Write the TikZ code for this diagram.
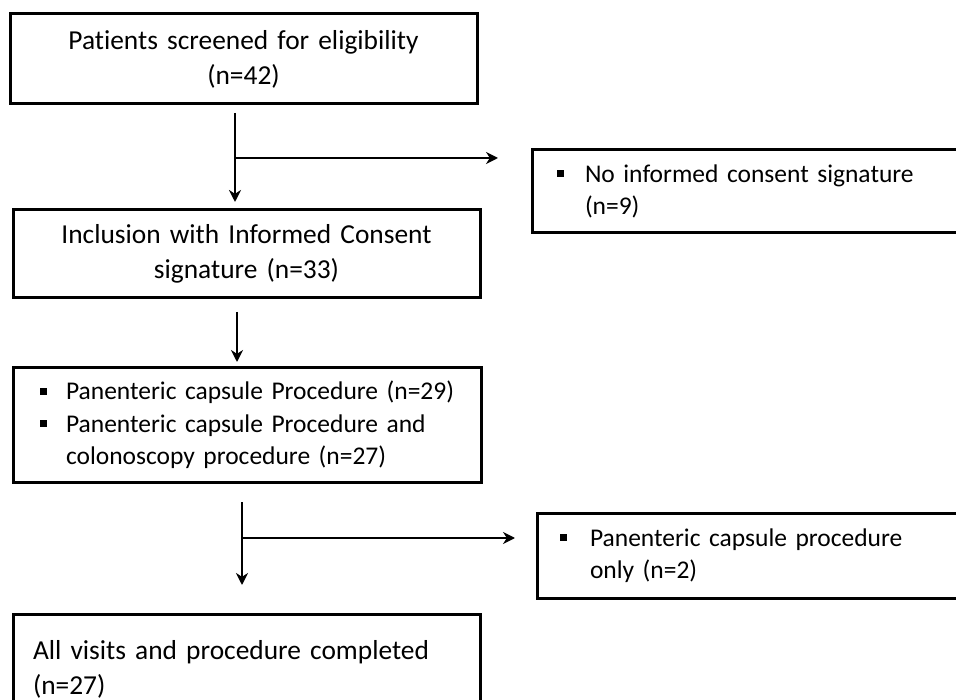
\documentclass[tikz,border=0pt]{standalone}
\usepackage{fontspec}
\setmainfont{Carlito}[Ligatures={NoCommon,NoRare,NoContextual},WordSpace={0.85}]
\usetikzlibrary{arrows.meta}
\newcommand\bulsq{\rule[5pt]{7pt}{7pt}}
\begin{document}
\begin{tikzpicture}[x=1pt,y=-1pt,
  box/.style={draw=black, line width=3pt, anchor=north west, inner sep=0pt, outer sep=0pt,
              font=\fontsize{25.5}{32.5}\selectfont},
  bigtext/.style={font=\fontsize{27.4}{35}\selectfont},
  arr/.style={line width=2pt, -{Stealth[length=12pt,width=12pt]}}]
\clip (0,0) rectangle (956,700);
% main column
\node[box, bigtext, minimum width=467, minimum height=90, text width=467, align=center] (B1) at (10,14)
  {Patients screened for eligibility\\(n=42)};
\node[box, bigtext, minimum width=467, minimum height=88, text width=467, align=center] (B2) at (13,210)
  {Inclusion with Informed Consent\\signature (n=33)};
\node[box, minimum width=468, minimum height=114, text width=468, align=left] (B3) at (13,368)
  {\hspace*{27pt}\makebox[26pt][l]{\bulsq}Panenteric capsule Procedure (n=29)\\
   \hspace*{27pt}\makebox[26pt][l]{\bulsq}Panenteric capsule Procedure and\\
   \hspace*{53pt}colonoscopy procedure (n=27)};
\node[box, bigtext, minimum width=467, minimum height=110, text width=467, align=left] (B4) at (13,614)
  {\hspace*{20pt}All visits and procedure completed\\\hspace*{20pt}(n=27)\\[8pt]};
% side boxes
\node[box, minimum width=440, minimum height=83, text width=440, align=left] (E1) at (532,150)
  {\hspace*{25pt}\makebox[28pt][l]{\bulsq}No informed consent signature\\\hspace*{53pt}(n=9)};
\node[box, minimum width=430, minimum height=85, text width=430, align=left] (E2) at (537,513)
  {\hspace*{23pt}\makebox[30pt][l]{\bulsq}Panenteric capsule procedure\\\hspace*{53pt}only (n=2)};
% connectors
\coordinate (s1) at (235,113);
\coordinate (j1) at (235,158);
\coordinate (s2) at (237,312);
\coordinate (s3) at (242,502);
\coordinate (j3) at (242,538);
\draw[arr, shorten >=8pt] (s1) -- (s1 |- B2.north);
\draw[arr, shorten >=34pt] (j1) -- (j1 -| E1.west);
\draw[arr, shorten >=6pt] (s2) -- (s2 |- B3.north);
\draw[arr, shorten >=29pt] (s3) -- (s3 |- B4.north);
\draw[arr, shorten >=22pt] (j3) -- (j3 -| E2.west);
\end{tikzpicture}
\end{document}
